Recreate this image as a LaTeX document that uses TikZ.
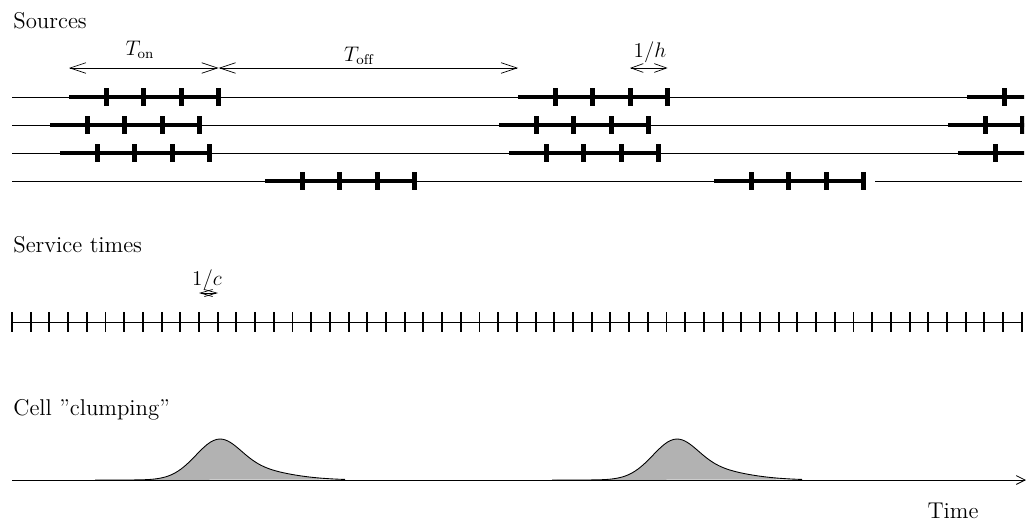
\documentclass[tikz,border=0pt]{standalone}
\usepackage{fontspec}
\usetikzlibrary{arrows.meta}

\tikzset{
  txt/.style={font=\fontsize{13}{15}\selectfont, inner sep=0pt},
  lbl/.style={font=\fontsize{12}{14}\selectfont, inner sep=0pt},
  thinline/.style={line width=0.5pt},
  burst/.style={line width=2pt},
  bursttick/.style={line width=3pt},
  servtick/.style={line width=1.1pt},
  dimarrow/.style={line width=0.4pt, {Straight Barb[length=9pt,width=6pt]}-{Straight Barb[length=9pt,width=6pt]}},
  smalldim/.style={line width=0.4pt, {Straight Barb[length=7pt,width=5pt]}-{Straight Barb[length=7pt,width=5pt]}},
  tinydim/.style={line width=0.4pt, {Straight Barb[length=7pt,width=4pt]}-{Straight Barb[length=7pt,width=4pt]}},
  timeaxis/.style={line width=0.5pt, -{Straight Barb[length=5pt,width=5pt]}},
  clump/.style={fill=black!30, draw=black, line width=0.5pt}
}

% one on-period of a source: start x, row y
\newcommand{\srcburst}[2]{%
  \draw[burst] (#1,#2) -- ++(149.6,0);
  \foreach \k in {1,...,4} \draw[bursttick] (#1+37.4*\k,#2-9) -- ++(0,18);
}
% one cell clump with its peak at x
\newcommand{\cellclump}[1]{%
  \draw[clump] plot[domain=-125:0, samples=40] ({#1+\x},{480-41*exp(-\x*\x/1152)})
    -- plot[domain=0:125, samples=50] ({#1+\x},{480-24*exp(-\x*\x/800)-17*exp(-\x*\x/4608)});
}

\begin{document}
\begin{tikzpicture}[x=0.02cm, y=-0.02cm]
  \useasboundingbox (0,0) rectangle (1026,521);

  % sources
  \node[txt, anchor=base west] (sources) at (13,28) {Sources};
  \foreach \y in {97,125,153} \draw[thinline] (12,\y) -- (1022,\y);
  \draw[thinline] (12,181) -- (865,181);
  \draw[thinline] (875,181) -- (1022,181);
  \begin{scope}
    \clip (0,0) rectangle (1024,521);
    \srcburst{69}{97}  \srcburst{518}{97}  \srcburst{967}{97}
    \srcburst{50}{125} \srcburst{499}{125} \srcburst{948}{125}
    \srcburst{60}{153} \srcburst{509}{153} \srcburst{958}{153}
    \srcburst{265}{181} \srcburst{714}{181}
  \end{scope}

  \coordinate (on1) at (69,68);
  \coordinate (on2) at (218.6,68);
  \coordinate (off2) at (518,68);
  \coordinate (h1) at (630,68);
  \coordinate (h2) at (667.6,68);
  \draw[dimarrow] (on1) -- (on2);
  \draw[dimarrow] (on2) -- (off2);
  \draw[smalldim] (h1) -- (h2);
  \node[lbl, anchor=base] (ton) at (140,55) {$T_{\mathrm{on}}$};
  \node[lbl, anchor=base] (toff) at (359,61) {$T_{\mathrm{off}}$};
  \node[lbl, anchor=base] (hlab) at (650,57) {$1/h$};

  % service times
  \node[txt, anchor=base west] (service) at (13,252) {Service times};
  \draw[thinline] (12,322) -- (1022,322);
  \foreach \k in {0,...,54} \draw[servtick] (12+18.7*\k,312) -- ++(0,20);
  \coordinate (c1) at (199,293);
  \coordinate (c2) at (218,293);
  \draw[tinydim] (c1) -- (c2);
  \node[lbl, anchor=base] (clab) at (207,285) {$1/c$};

  % cell clumping
  \node[txt, anchor=base west] (clumping) at (13,415) {Cell "clumping"};
  \cellclump{220}
  \cellclump{677}
  \coordinate (t0) at (12,480);
  \coordinate (t1) at (1026,480);
  \draw[timeaxis] (t0) -- (t1);
  \node[txt, anchor=base] (time) at (953,518) {Time};
\end{tikzpicture}
\end{document}
